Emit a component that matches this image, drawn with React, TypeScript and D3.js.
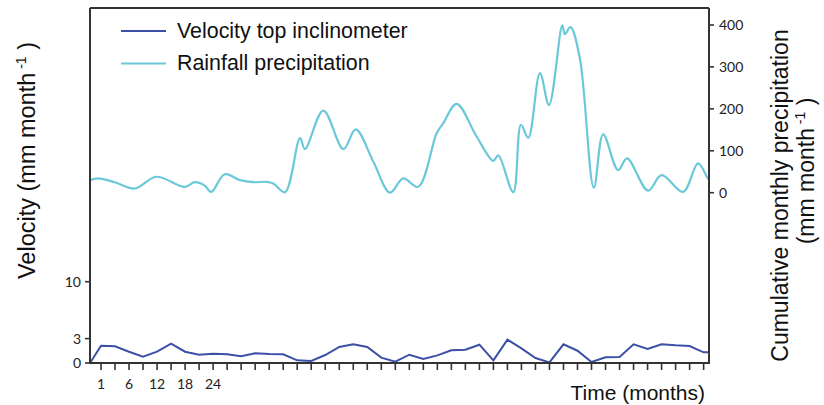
import React from "react";
import * as d3 from "d3";

// Time in months; x ticks every 3 months
const tickMonths: number[] = Array.from({ length: 44 }, (_, i) => i * 3);
const tickLabels: Record<number, string> = { 0: "1", 6: "6", 12: "12", 18: "18", 24: "24" };

// Velocity top inclinometer (mm/month) at each tick month
const velocityValues: number[] = [
  2.13, 2.05, 1.39, 0.78, 1.39, 2.38, 1.39, 1.02, 1.15, 1.07, 0.82, 1.19, 1.11, 1.07, 0.33, 0.25,
  0.98, 1.97, 2.3, 1.97, 0.66, 0.16, 1.02, 0.49, 0.94, 1.56, 1.64, 2.25, 0.33, 2.87, 1.8, 0.61,
  0.08, 2.3, 1.51, 0.12, 0.7, 0.74, 2.3, 1.72, 2.3, 2.17, 2.09, 1.31,
];
const velocityStart = 0;
const velocityEnd = 1.31;

// Rainfall precipitation (mm/month), traced points [month, value]
const rainMonths: number[] = [
  -2.35, -0.64, 2.93, 7.21, 11.84, 17.92, 20.06, 22.2, 23.6, 26.48, 29.75, 32.6, 35.47, 36.88, 39.38,
  42.6, 43.66, 47.6, 51.9, 54.52, 58.3, 61.86, 64.7, 67.9, 71.85, 73.27, 76.13, 80.4, 83.97, 85.04,
  88.25, 89.9, 91.46, 93.96, 95.9, 98.74, 99.3, 100.5, 102.5, 105.5, 107.5, 110.7, 112.6, 117.1, 120,
  124.6, 127.8, 129.7, 130.2,
];
const rainValues: number[] = [
  30, 34, 25, 10, 38, 14, 25, 17, 2, 44, 30, 25, 26, 22, 1, 130, 104, 196, 104, 151, 74, 0, 34, 14,
  142, 166, 212, 134, 76, 89, 1, 162, 131, 285, 209, 399, 378, 395, 321, 12, 139, 54, 82, 5, 42, 2,
  70, 38, 30,
];

const leftTicks = [0, 3, 10];
const rightTicks = [0, 100, 200, 300, 400];

const W = 824;
const H = 405;
const L = 90, R = 709, T = 8, B = 363;

const VEL_COLOR = "#3c50a6";
const RAIN_COLOR = "#6bc8d9";
const AXIS_COLOR = "#333333";
const TICK_FONT = "Lato, 'Open Sans', sans-serif";
const TITLE_FONT = "'Liberation Sans', Arial, sans-serif";

export default function App() {
  const x = d3.scaleLinear().domain([-2.355, 130.15]).range([L, R]);
  const yL = d3.scaleLinear().domain([0, 43.66]).range([B, T]);
  const yR = d3.scaleLinear().domain([0, 400]).range([192.7, 25]);

  const velPts: [number, number][] = [
    [x.domain()[0], velocityStart],
    ...velocityValues.map((v, i) => [tickMonths[i], v] as [number, number]),
    [x.domain()[1], velocityEnd],
  ];
  const velPath = d3
    .line<[number, number]>()
    .x((d) => x(d[0]))
    .y((d) => yL(d[1]))(velPts) as string;

  const rainPts: [number, number][] = rainMonths.map((m, i) => [m, rainValues[i]]);
  const rainPath = d3
    .line<[number, number]>()
    .x((d) => x(d[0]))
    .y((d) => yR(d[1]))
    .curve(d3.curveCatmullRom.alpha(0.5))(rainPts) as string;

  return (
    <svg
      width={W}
      height={H}
      style={{ position: "absolute", left: 0, top: 0, display: "block", background: "#fff" }}
    >
      <defs>
        <clipPath id="plotClip">
          <rect x={L} y={T} width={R - L} height={B - T} />
        </clipPath>
      </defs>

      {/* data */}
      <g clipPath="url(#plotClip)">
        <path d={rainPath} fill="none" stroke={RAIN_COLOR} strokeWidth={2.2} />
        <path d={velPath} fill="none" stroke={VEL_COLOR} strokeWidth={2} strokeLinejoin="miter" />
      </g>

      {/* frame */}
      <line x1={L} x2={R} y1={T} y2={T} stroke={AXIS_COLOR} strokeWidth={2} />
      <line x1={L} x2={L} y1={T} y2={B} stroke={AXIS_COLOR} strokeWidth={2} />
      <line x1={R} x2={R} y1={T} y2={B} stroke={AXIS_COLOR} strokeWidth={2} />
      <line x1={L - 1} x2={R + 1} y1={B} y2={B} stroke={AXIS_COLOR} strokeWidth={2} />

      {/* bottom ticks */}
      {tickMonths.map((m) => (
        <line key={"bt" + m} x1={x(m)} x2={x(m)} y1={B} y2={B + 7} stroke={AXIS_COLOR} strokeWidth={1.6} />
      ))}
      {tickMonths
        .filter((m) => tickLabels[m] !== undefined)
        .map((m) => (
          <text
            key={"bl" + m}
            x={x(m)}
            y={389}
            textAnchor="middle"
            fontFamily={TICK_FONT}
            fontSize={14}
            fill="#222"
          >
            {tickLabels[m]}
          </text>
        ))}

      {/* left ticks */}
      {leftTicks.map((v) => (
        <g key={"lt" + v}>
          <line x1={L - 5} x2={L} y1={yL(v)} y2={yL(v)} stroke={AXIS_COLOR} strokeWidth={1.6} />
          <text
            x={L - 9}
            y={yL(v) + 5}
            textAnchor="end"
            fontFamily={TICK_FONT}
            fontSize={14}
            fill="#222"
          >
            {v}
          </text>
        </g>
      ))}

      {/* right ticks */}
      {rightTicks.map((v) => (
        <g key={"rt" + v}>
          <line x1={R} x2={R + 5} y1={yR(v)} y2={yR(v)} stroke={AXIS_COLOR} strokeWidth={1.6} />
          <text
            x={R + 10}
            y={yR(v) + 5}
            textAnchor="start"
            fontFamily={TICK_FONT}
            fontSize={14}
            fill="#222"
          >
            {v}
          </text>
        </g>
      ))}

      {/* legend */}
      <line x1={121} x2={166} y1={31} y2={31} stroke={VEL_COLOR} strokeWidth={2} />
      <text x={177} y={37.5} fontFamily={TITLE_FONT} fontSize={21.4} fill="#111">
        Velocity top inclinometer
      </text>
      <line x1={121} x2={166} y1={63.5} y2={63.5} stroke={RAIN_COLOR} strokeWidth={2} />
      <text x={177} y={70} fontFamily={TITLE_FONT} fontSize={21.4} fill="#111">
        Rainfall precipitation
      </text>

      {/* axis titles */}
      <text
        transform="translate(35,160.5) rotate(-90)"
        textAnchor="middle"
        fontFamily={TITLE_FONT}
        fontSize={23.5}
        fill="#111"
      >
        Velocity (mm month
        <tspan fontSize={14} dy={-9}> -1</tspan>
        <tspan dy={9}> )</tspan>
      </text>
      <text
        transform="translate(788,195.5) rotate(-90)"
        textAnchor="middle"
        fontFamily={TITLE_FONT}
        fontSize={23}
        fill="#111"
      >
        Cumulative monthly precipitation
      </text>
      <text
        transform="translate(814,171) rotate(-90)"
        textAnchor="middle"
        fontFamily={TITLE_FONT}
        fontSize={23}
        fill="#111"
      >
        (mm month
        <tspan fontSize={14} dy={-9}> -1</tspan>
        <tspan dy={9}> )</tspan>
      </text>
      <text x={705} y={400} textAnchor="end" fontFamily={TITLE_FONT} fontSize={21} fill="#111">
        Time (months)
      </text>
    </svg>
  );
}
